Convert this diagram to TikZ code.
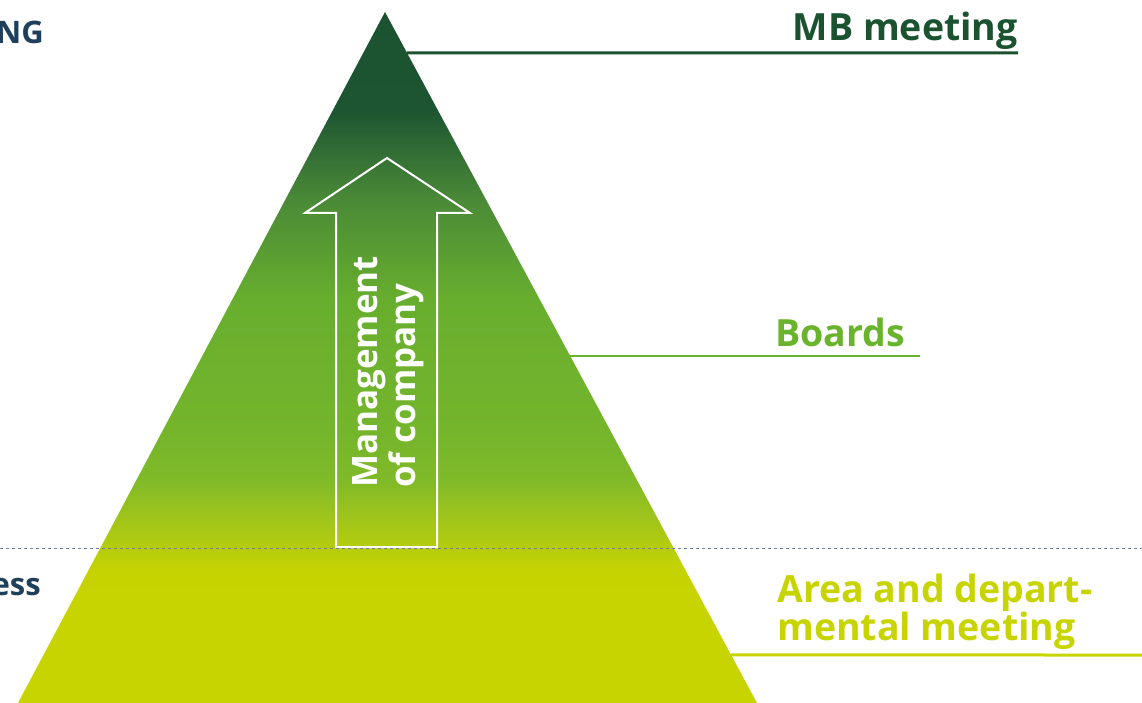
\documentclass[tikz,border=0pt]{standalone}
\usepackage{fontspec}
\setmainfont{Open Sans}
\usetikzlibrary{calc}
\definecolor{mbgreen}{HTML}{1B5230}
\definecolor{bgreen}{HTML}{6AB42D}
\definecolor{ayellow}{HTML}{C8D400}
\definecolor{navy}{HTML}{1F405C}
\definecolor{dashgrey}{HTML}{6E7F91}
\definecolor{gA}{HTML}{C6D302}
\definecolor{gB}{HTML}{A2C51A}
\definecolor{gC}{HTML}{80BA28}
\definecolor{gD}{HTML}{74B52C}
\definecolor{gE}{HTML}{68AE2E}
\definecolor{gF}{HTML}{4A8A37}
\definecolor{gG}{HTML}{1D5532}
\pgfdeclareverticalshading{pyr}{100bp}{%
  color(0bp)=(ayellow);
  color(25bp)=(ayellow);
  color(32.4bp)=(ayellow);
  color(34.6bp)=(gA);
  color(38.2bp)=(gB);
  color(41.1bp)=(gC);
  color(44.75bp)=(gD);
  color(54.2bp)=(gE);
  color(61.4bp)=(gF);
  color(67.9bp)=(gG);
  color(75bp)=(mbgreen);
  color(100bp)=(mbgreen)}
\tikzset{
  lbl/.style={inner sep=0pt, font=\fontsize{37.5}{38}\selectfont\bfseries},
  arrowlbl/.style={inner sep=0pt, font=\fontsize{35}{38}\selectfont\bfseries, text=white},
  sidelbl/.style={inner sep=0pt, font=\fontsize{31}{33}\selectfont\bfseries, text=navy},
  levelline/.style={line width=3pt},
  arrowbox/.style={draw=white, line width=2pt, line join=miter}
}
\begin{document}
\begin{tikzpicture}[x=1pt,y=-1pt]
\useasboundingbox (0,0) rectangle (1142,703);
% pyramid
\coordinate (apex) at (385,12);
\coordinate (bl) at (18,703);
\coordinate (br) at (757,703);
\shade[shading=pyr] (apex) -- (br) -- (bl) -- cycle;
% arrow
\draw[arrowbox] (336,547) -- (336,213) -- (305,213) -- (387,158) -- (470,213) -- (437,213) -- (437,547) -- cycle;
\node[arrowlbl, rotate=90, anchor=base west, align=left] (mgmt) at (415,488) {Management\\of company};
% dashed divider
\coordinate (dl) at (0,548);
\coordinate (dr) at (1142,548);
\draw[dashgrey, line width=1pt, dash pattern=on 3pt off 3pt] (dl) -- (dr);
% level lines
\coordinate (mbA) at ($(apex)!0.0593!(br)$);
\coordinate (mbB) at (1018,53);
\draw[levelline, mbgreen] (mbA) -- (mbB);
\node[lbl, text=mbgreen, anchor=base east] (mb) at (1018,41) {MB meeting};
\coordinate (bdA) at (525,356);
\coordinate (bdB) at (920,356);
\draw[levelline, bgreen, line width=2.5pt] (bdA) -- (bdB);
\node[lbl, text=bgreen, anchor=base east] (boards) at (905,346) {Boards};
\coordinate (arA) at ($(apex)!0.9305!(br)$);
\coordinate (arB) at (1142,655);
\draw[levelline, ayellow] (arA) -- (arB);
\node[lbl, text=ayellow, anchor=base west, align=left] (area) at (777,640) {Area and depart-\\mental meeting};
% left cut-off labels
\node[sidelbl, anchor=base east] (ng) at (44,44) {NG};
\node[sidelbl, anchor=base east] (ess) at (41,595) {ess};
\end{tikzpicture}
\end{document}
